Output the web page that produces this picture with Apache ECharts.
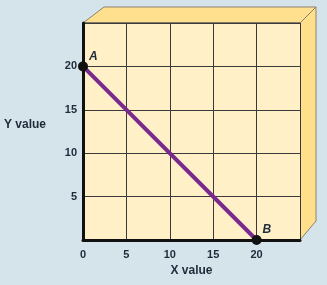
<!DOCTYPE html>
<html><head><meta charset="utf-8">
<style>html,body{margin:0;padding:0;background:#d5e3ea;}#c{width:327px;height:285px;}</style>
<script src="https://cdn.jsdelivr.net/npm/echarts@6/dist/echarts.min.js"></script>
</head><body><div id="c"></div>
<script>
const xTicks = [0, 5, 10, 15, 20];
const yTicks = [5, 10, 15, 20];
const lineX = [0, 20];
const lineY = [20, 0];
const pointNames = ['A', 'B'];
const axisMax = 25;

const chart = echarts.init(document.getElementById('c'), null, {renderer: 'canvas'});
const lineData = lineX.map((x, i) => [x, lineY[i]]);
const font = 'Liberation Sans';
chart.setOption({
  backgroundColor: '#d5e3ea',
  animation: false,
  grid: {left: 83, right: 27, top: 23, bottom: 45, show: true, backgroundColor: '#fff0c8', borderWidth: 0},
  xAxis: {
    type: 'value', min: 0, max: axisMax, interval: 5,
    name: 'X value', nameLocation: 'middle', nameGap: 24,
    nameTextStyle: {fontFamily: font, fontWeight: 'bold', fontSize: 12, color: '#1f2a3a'},
    axisLine: {show: true, onZero: false, lineStyle: {color: '#111', width: 3}},
    axisTick: {show: false},
    axisLabel: {fontFamily: font, fontWeight: 'bold', fontSize: 11, color: '#1f2a3a', margin: 9,
      formatter: v => xTicks.includes(v) ? String(v) : ''},
    splitLine: {show: true, lineStyle: {color: '#3a3a3a', width: 1}}
  },
  yAxis: {
    type: 'value', min: 0, max: axisMax, interval: 5,
    name: 'Y value', nameLocation: 'middle', nameGap: 37, nameRotate: 0,
    nameTextStyle: {fontFamily: font, fontWeight: 'bold', fontSize: 12, color: '#1f2a3a', align: 'right', verticalAlign: 'bottom', lineHeight: 14},
    axisLine: {show: true, onZero: false, lineStyle: {color: '#111', width: 3}},
    axisTick: {show: false},
    axisLabel: {fontFamily: font, fontWeight: 'bold', fontSize: 11, color: '#1f2a3a', margin: 6,
      formatter: v => yTicks.includes(v) ? String(v) : ''},
    splitLine: {show: true, lineStyle: {color: '#3a3a3a', width: 1}}
  },
  series: [{
    type: 'line', data: lineData, z: 5,
    lineStyle: {color: '#7a2a8e', width: 4},
    symbol: 'circle', symbolSize: 10,
    itemStyle: {color: '#111'},
    label: {show: true, fontFamily: font, fontStyle: 'italic', fontWeight: 'bold', fontSize: 12, color: '#1f2a3a',
      formatter: p => pointNames[p.dataIndex], position: 'insideBottomLeft', offset: [6, -4]}
  }]
});

function drawBox() {
  const tl = chart.convertToPixel('grid', [0, axisMax]);
  const tr = chart.convertToPixel('grid', [axisMax, axisMax]);
  const br = chart.convertToPixel('grid', [axisMax, 0]);
  const d = 16;
  chart.setOption({graphic: [
    {type: 'polygon', z: -1, shape: {points: [[tl[0], tl[1]], [tl[0] + 21, tl[1] - d], [tr[0] + d, tr[1] - d], [tr[0], tr[1]]]},
      style: {fill: '#ffe08e', stroke: '#8a8270', lineWidth: 1}},
    {type: 'polygon', z: -1, shape: {points: [[tr[0], tr[1]], [tr[0] + d, tr[1] - d], [br[0] + d, br[1] - 19], [br[0], br[1]]]},
      style: {fill: '#ffdf8a', stroke: '#8a8270', lineWidth: 1}},
    {type: 'line', z: -1, shape: {x1: tr[0], y1: tr[1], x2: br[0], y2: br[1]}, style: {stroke: '#6a6a5a', lineWidth: 1.5}},
    {type: 'line', z: -1, shape: {x1: tl[0], y1: tl[1], x2: tr[0], y2: tr[1]}, style: {stroke: '#6a6a5a', lineWidth: 1.5}}
  ]});
}
drawBox();
</script></body></html>
